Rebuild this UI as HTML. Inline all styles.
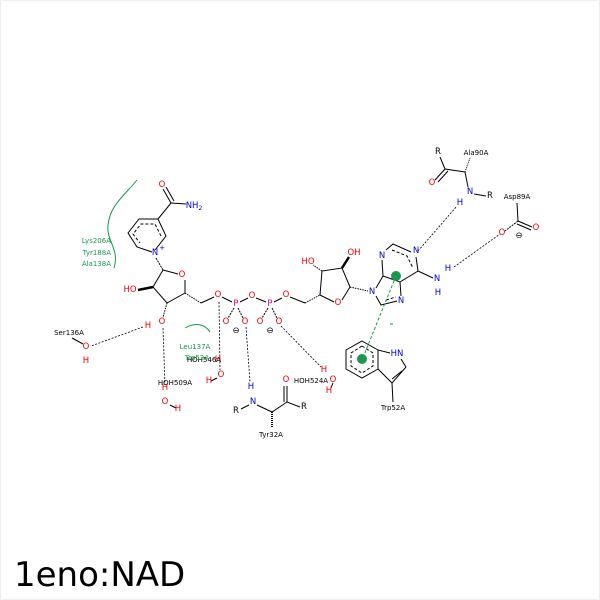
<!DOCTYPE html>
<html><head><meta charset="utf-8"><style>
html,body{margin:0;padding:0;background:#fff}
svg{display:block}
text{font-family:"DejaVu Sans","Liberation Sans",sans-serif}
.a{font-size:8.5px;text-anchor:middle;dominant-baseline:central}
.l{font-size:7px;dominant-baseline:central}
.O{fill:#e00}.N{fill:#00c}.P{fill:#d0008a}.G{fill:#1a9850}
</style></head><body>
<svg width="600" height="600" viewBox="0 0 600 600" xmlns="http://www.w3.org/2000/svg">
<rect x="0.5" y="0.5" width="599" height="599" fill="#fff" stroke="#eee"/>
<g stroke="#000" stroke-width="1" fill="none">
<polyline points="155,250 166,236 158,219 139,219 128,233 137,247 152,252"/>
<polyline points="161,236 155,224 141,224 133,234 140,243" stroke-dasharray="3,2"/>
<line x1="158" y1="219" x2="171" y2="203"/>
<line x1="171" y1="203" x2="163" y2="189"/><line x1="174" y1="201" x2="166" y2="187"/>
<line x1="171" y1="203" x2="186" y2="204"/>
<line x1="156" y1="258" x2="163" y2="270" stroke-dasharray="2,1"/>
<polyline points="163,270 178,274"/><polyline points="185,280 185,293 167,303 153,287 163,270"/>
<line x1="153" y1="287" x2="138" y2="290" stroke-width="2.5"/>
<line x1="167" y1="303" x2="163" y2="317" stroke-dasharray="1.5,1"/>
<line x1="185" y1="293" x2="201" y2="303" stroke-dasharray="1.5,1"/>
<line x1="201" y1="303" x2="214" y2="297"/>
<line x1="222" y1="297" x2="232" y2="302"/><line x1="240" y1="302" x2="248" y2="298"/>
<line x1="256" y1="298" x2="266" y2="302"/><line x1="274" y1="302" x2="282" y2="298"/>
<line x1="290" y1="297" x2="305" y2="303"/>
<g stroke-dasharray="2,1"><line x1="234" y1="308" x2="228" y2="318"/><line x1="238" y1="308" x2="243" y2="318"/>
<line x1="268" y1="308" x2="262" y2="318"/><line x1="272" y1="308" x2="277" y2="318"/></g>
<line x1="305" y1="303" x2="320" y2="295" stroke-dasharray="1.5,1"/>
<polyline points="320,295 334,302"/><polyline points="342,300 350,287 342,268 322,271 320,295"/>
<line x1="322" y1="271" x2="313" y2="265" stroke-dasharray="1.5,1"/>
<line x1="342" y1="268" x2="349" y2="257" stroke-width="2.5"/>
<line x1="350" y1="287" x2="368" y2="291" stroke-dasharray="1.5,1"/>
<polyline points="376,288 383,276 382,260"/><polyline points="386,250 393,244 411,252"/>
<polyline points="416,257 418,271 400,282 383,276"/>
<polyline points="376,296 381,305 397,301"/><line x1="401" y1="296" x2="400" y2="282"/>
<polyline points="392,250 407,256 413,268" stroke-dasharray="3,2"/>
<line x1="386" y1="300" x2="396" y2="297" stroke-dasharray="3,2"/>
<line x1="418" y1="271" x2="433" y2="278"/>
<polyline points="440,157 445,169 465,172"/>
<line x1="445" y1="169" x2="435" y2="180"/><line x1="448" y1="171" x2="438" y2="182"/>
<line x1="465" y1="172" x2="468" y2="187"/>
<line x1="465" y1="172" x2="470" y2="158" stroke-dasharray="1,1"/>
<line x1="474" y1="194" x2="486" y2="196"/>
<line x1="517" y1="203" x2="518" y2="221"/>
<line x1="518" y1="221" x2="505" y2="231" stroke-dasharray="2,1"/>
<line x1="518" y1="221" x2="532" y2="227"/><line x1="517" y1="224" x2="531" y2="230"/>
<polygon points="362,341 378,350 378,369 362,378 346,369 346,350"/>
<polygon points="362,346 373,353 373,366 362,373 351,366 351,353" stroke-dasharray="3,2"/>
<line x1="378" y1="350" x2="390" y2="353"/><line x1="401" y1="359" x2="406" y2="367"/>
<polyline points="406,367 392,383 378,369"/><line x1="402" y1="371" x2="392" y2="379"/>
<line x1="392" y1="383" x2="393" y2="402"/>
<line x1="241" y1="409" x2="249" y2="405"/>
<polyline points="257,405 272,412 287,402 300,407"/>
<line x1="287" y1="402" x2="287" y2="386"/><line x1="284" y1="402" x2="284" y2="386"/>
<line x1="272" y1="412" x2="272" y2="427" stroke-dasharray="1,1" stroke-width="2"/>
<line x1="72" y1="338" x2="83" y2="344"/>
<line x1="170" y1="405" x2="176" y2="408"/>
<line x1="217" y1="378" x2="211" y2="381"/>
<line x1="333" y1="383" x2="331" y2="388"/>
</g>
<g stroke="#000" stroke-width="0.8" stroke-dasharray="2,1.5" fill="none">
<line x1="143" y1="327" x2="91" y2="346"/>
<line x1="163" y1="328" x2="165" y2="385"/>
<line x1="219" y1="302" x2="220" y2="370"/>
<line x1="246" y1="327" x2="250" y2="382"/>
<line x1="281" y1="326" x2="321" y2="367"/>
<line x1="418" y1="251" x2="457" y2="206"/>
<line x1="454" y1="267" x2="500" y2="234"/>
</g>
<g stroke="#1a9850" stroke-width="1" fill="none">
<path d="M137,180 C125,195 110,205 108,225 C106,240 120,250 114,268"/>
<path d="M185,328 C195,322 205,324 210,332"/>
<line x1="390" y1="324" x2="393" y2="324"/>
<line x1="396" y1="276" x2="362" y2="360" stroke-dasharray="3,2"/>
</g>
<circle cx="396" cy="276" r="5" fill="#1a9850"/><circle cx="362" cy="359" r="5" fill="#1a9850"/>
<g class="a">
<text x="162" y="185" class="O">O</text>
<text x="194" y="206" class="N">NH<tspan font-size="6" dy="2">2</tspan></text>
<text x="155" y="253" class="N">N</text><text x="162" y="248" class="N" font-size="7">+</text>
<text x="182" y="275" class="O">O</text>
<text x="130" y="290" class="O">HO</text>
<text x="162" y="322" class="O">O</text><text x="148" y="326" class="O">H</text>
<text x="218" y="295" class="O">O</text><text x="236" y="304" class="P">P</text>
<text x="252" y="296" class="O">O</text><text x="270" y="304" class="P">P</text>
<text x="286" y="295" class="O">O</text>
<text x="226" y="322" class="O">O</text><text x="245" y="322" class="O">O</text>
<text x="260" y="322" class="O">O</text><text x="279" y="322" class="O">O</text>
<text x="236" y="331">⊖</text><text x="270" y="331">⊖</text>
<text x="338" y="303" class="O">O</text>
<text x="308" y="262" class="O">HO</text><text x="354" y="253" class="O">OH</text>
<text x="372" y="292" class="N">N</text><text x="382" y="256" class="N">N</text>
<text x="416" y="251" class="N">N</text><text x="401" y="301" class="N">N</text>
<text x="437" y="279" class="N">N</text><text x="448" y="269" class="N">H</text><text x="438" y="293" class="N">H</text>
<text x="438" y="152">R</text><text x="432" y="183" class="O">O</text>
<text x="470" y="192" class="N">N</text><text x="460" y="203" class="N">H</text><text x="490" y="196">R</text>
<text x="502" y="233" class="O">O</text><text x="536" y="228" class="O">O</text><text x="519" y="236">⊖</text>
<text x="397" y="354" class="N">HN</text>
<text x="86" y="347" class="O">O</text><text x="86" y="361" class="O">H</text>
<text x="165" y="388" class="O">H</text><text x="165" y="402" class="O">O</text><text x="178" y="409" class="O">H</text>
<text x="221" y="375" class="O">O</text><text x="209" y="381" class="O">H</text><text x="218" y="360" class="O">H</text>
<text x="324" y="370" class="O">H</text><text x="333" y="380" class="O">O</text><text x="329" y="391" class="O">H</text>
<text x="251" y="387" class="N">H</text><text x="253" y="402" class="N">N</text>
<text x="236" y="411">R</text><text x="286" y="380" class="O">O</text><text x="304" y="407">R</text>
</g>
<g class="l">
<text x="476" y="153" text-anchor="middle">Ala90A</text>
<text x="517" y="197" text-anchor="middle">Asp89A</text>
<text x="393" y="408" text-anchor="middle">Trp52A</text>
<text x="271" y="435" text-anchor="middle">Tyr32A</text>
<text x="69" y="333" text-anchor="middle">Ser136A</text>
<text x="175" y="383" text-anchor="middle">HOH509A</text>
<text x="204" y="360" text-anchor="middle">HOH546A</text>
<text x="311" y="381" text-anchor="middle">HOH524A</text>
<text x="111" y="241" text-anchor="end" class="G">Lys206A</text>
<text x="111" y="253" text-anchor="end" class="G">Tyr188A</text>
<text x="111" y="264" text-anchor="end" class="G">Ala138A</text>
<text x="195" y="347" text-anchor="middle" class="G">Leu137A</text>
<text x="197" y="358" text-anchor="middle" class="G">Trp52A</text>
</g>
<text x="14" y="586" font-size="34" fill="#000">1eno:NAD</text>
</svg>
</body></html>
